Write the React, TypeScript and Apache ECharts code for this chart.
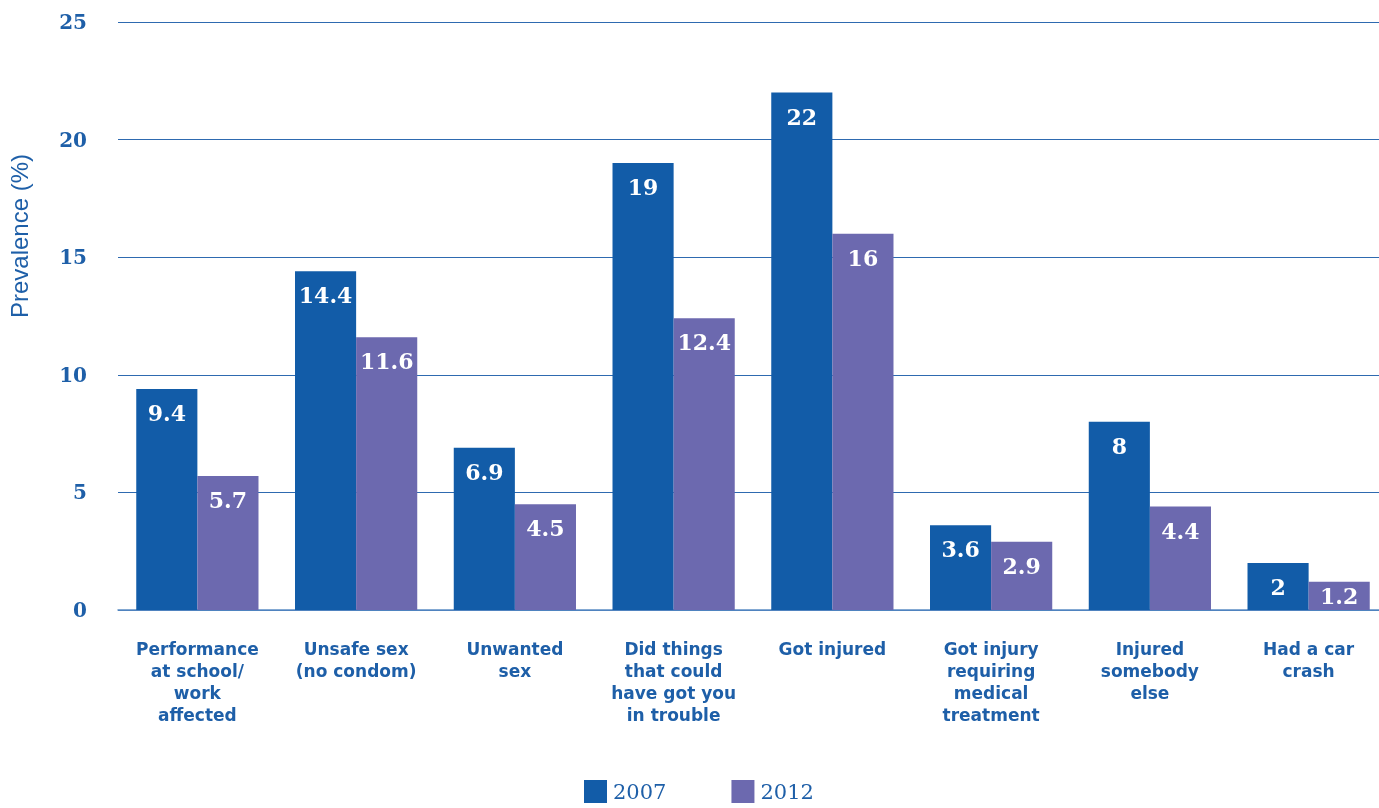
import React, { useEffect, useRef } from "react";
import * as echarts from "echarts";

const categories = [
  "Performance\nat school/\nwork\naffected",
  "Unsafe sex\n(no condom)",
  "Unwanted\nsex",
  "Did things\nthat could\nhave got you\nin trouble",
  "Got injured",
  "Got injury\nrequiring\nmedical\ntreatment",
  "Injured\nsomebody\nelse",
  "Had a car\ncrash",
];
const values2007 = [9.4, 14.4, 6.9, 19, 22, 3.6, 8, 2];
const values2012 = [5.7, 11.6, 4.5, 12.4, 16, 2.9, 4.4, 1.2];
const yTicks = [0, 5, 10, 15, 20, 25];
const seriesNames = ["2007", "2012"];
const yAxisTitle = "Prevalence (%)";

const BLUE = "#125CA8";
const PURPLE = "#6C69AF";
const TEXT = "#1E5FA8";
const SANS = "'DejaVu Sans', sans-serif";
const SERIF = "'DejaVu Serif', 'Liberation Serif', serif";

const baseLabel = {
  show: true,
  position: "insideTop",
  distance: 13,
  color: "#fff",
  fontFamily: SERIF,
  fontWeight: "bold",
  fontSize: 22,
};

// short bars get their value label centred inside the bar
const toItems = (vals: number[]) =>
  vals.map((v) => (v < 1.5 ? { value: v, label: { position: "inside" } } : v));

export default function App() {
  const ref = useRef<HTMLDivElement>(null);
  useEffect(() => {
    document.body.style.margin = "0";
    document.body.style.overflow = "hidden";
    if (!ref.current) return;
    const chart = echarts.init(ref.current, null, { renderer: "svg" });
    chart.setOption({
      animation: false,
      grid: { left: 118, right: -9, top: 22, bottom: 198, outerBoundsMode: "none" },
      legend: {
        bottom: 0,
        left: 579,
        itemWidth: 23,
        itemHeight: 23,
        itemGap: 65,
        icon: "rect",
        textStyle: { fontFamily: SERIF, fontSize: 21, color: TEXT, padding: [0, 0, 0, 1] },
        data: seriesNames,
      },
      graphic: [
        {
          type: "text",
          x: 19,
          y: 236,
          rotation: Math.PI / 2,
          style: {
            text: yAxisTitle,
            fill: TEXT,
            font: "500 24px 'Liberation Sans', Arial, sans-serif",
            textAlign: "center",
            textVerticalAlign: "middle",
          },
        },
      ],
      xAxis: {
        type: "category",
        data: categories,
        axisLine: { show: true, lineStyle: { color: "#5B8CC4", width: 1.5 } },
        axisTick: { show: false },
        axisLabel: {
          interval: 0,
          margin: 28,
          color: TEXT,
          fontFamily: SANS,
          fontWeight: "bold",
          fontSize: 17,
          lineHeight: 22,
        },
      },
      yAxis: {
        type: "value",
        min: 0,
        max: 25,
        interval: 5,
        axisLine: { show: false },
        axisTick: { show: false },
        axisLabel: {
          margin: 31,
          color: TEXT,
          fontFamily: SERIF,
          fontWeight: "bold",
          fontSize: 20,
          formatter: (v: number) => (yTicks.includes(v) ? String(v) : ""),
        },
        splitLine: { lineStyle: { color: "#2E6AB0", width: 1.2 } },
      },
      series: [
        {
          name: seriesNames[0],
          type: "bar",
          data: toItems(values2007),
          itemStyle: { color: BLUE },
          barGap: "0%",
          barCategoryGap: "23%",
          label: baseLabel,
        },
        {
          name: seriesNames[1],
          type: "bar",
          data: toItems(values2012),
          itemStyle: { color: PURPLE },
          barGap: "0%",
          barCategoryGap: "23%",
          label: baseLabel,
        },
      ],
    });
    return () => chart.dispose();
  }, []);
  return <div ref={ref} style={{ width: 1379, height: 808, position: "fixed", left: 0, top: 0 }} />;
}
